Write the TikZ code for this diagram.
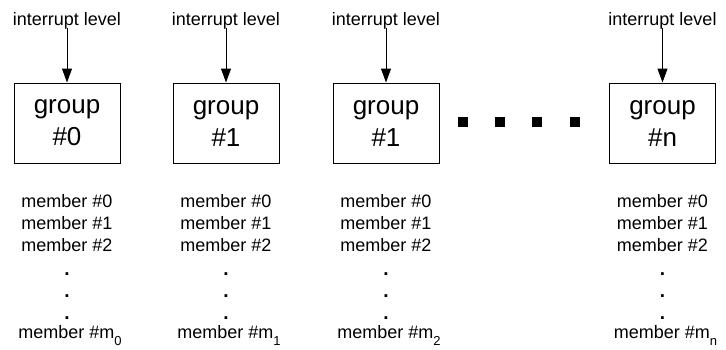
\documentclass[tikz,border=0pt]{standalone}
\usepackage{fontspec}
\setmainfont{Liberation Sans}
\usetikzlibrary{arrows.meta}
\newcommand\msubx[1]{\raisebox{-7pt}{\fontsize{13}{13}\selectfont #1}}
\tikzset{
  grp/.style={draw=black, line width=1pt, minimum width=106pt, minimum height=80pt, inner sep=0pt,
    align=center, font=\fontsize{26}{32}\selectfont},
  lbl/.style={anchor=base, inner sep=0pt, font=\fontsize{18}{18}\selectfont},
  mem/.style={anchor=base, inner sep=0pt, font=\fontsize{18}{18}\selectfont},
  vdot/.style={anchor=base, inner sep=0pt, font=\fontsize{19}{19}\selectfont\bfseries},
  sq/.style={fill=black, minimum size=10pt, inner sep=0pt},
  arr/.style={line width=1pt, -{Triangle[width=10pt,length=14pt]}}
}
\begin{document}
\begin{tikzpicture}[x=1pt,y=-1pt]
\useasboundingbox (0,0) rectangle (726,349);
\foreach \cx/\nm/\gt/\sub in {67/a/0/0, 226/b/1/1, 386/c/1/2, 662.5/d/n/n}{
  \node[grp] (g\nm) at (\cx,123) {group\\\#\gt};
  \node[lbl] (l\nm) at (\cx,25) {interrupt level};
  \draw[arr] (l\nm.south) ++(0,-1) -- (g\nm.north);
  \node[mem] (m0\nm) at (\cx,207) {member \#0};
  \node[mem] (m1\nm) at (\cx,229) {member \#1};
  \node[mem] (m2\nm) at (\cx,251) {member \#2};
  \node[vdot] (d1\nm) at (\cx,275) {.};
  \node[vdot] (d2\nm) at (\cx,297) {.};
  \node[vdot] (d3\nm) at (\cx,319) {.};
  \node[mem] (mm\nm) at (\cx+3,338) {member \#m\msubx{\sub}};
}
\node[sq] (s1) at (463,122) {};
\node[sq] (s2) at (500,122) {};
\node[sq] (s3) at (537,122) {};
\node[sq] (s4) at (575,122) {};
\end{tikzpicture}
\end{document}
